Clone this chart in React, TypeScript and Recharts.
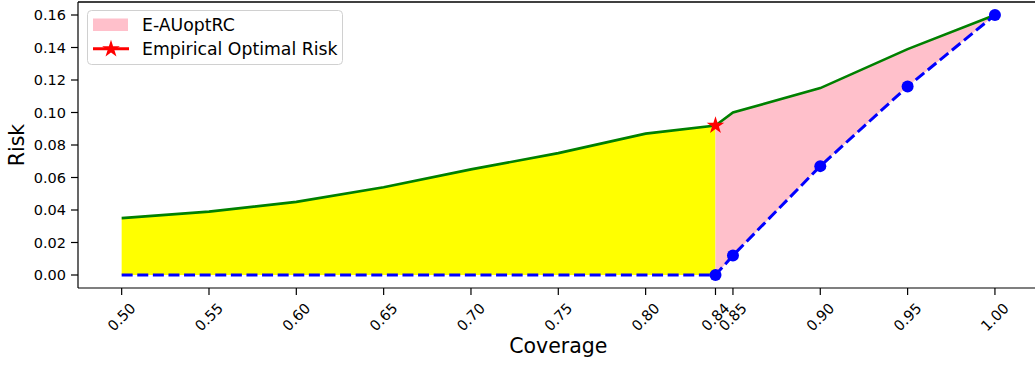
import React from "react";
import {
  ComposedChart,
  Area,
  Line,
  Scatter,
  XAxis,
  YAxis,
  ReferenceLine,
  Legend,
  Label,
} from "recharts";

const coverage = [0.5, 0.55, 0.6, 0.65, 0.7, 0.75, 0.8, 0.84, 0.85, 0.9, 0.95, 1.0];
const risk = [0.035, 0.039, 0.045, 0.054, 0.065, 0.075, 0.087, 0.092, 0.1, 0.115, 0.139, 0.16];
const optimalRisk = [0, 0, 0, 0, 0, 0, 0, 0, 0.012, 0.067, 0.116, 0.16];
const markedCoverage = [0.84, 0.85, 0.9, 0.95, 1.0];
const optimalCoverage = 0.84;
const optimalPointRisk = 0.092;

const xTicks = [0.5, 0.55, 0.6, 0.65, 0.7, 0.75, 0.8, 0.84, 0.85, 0.9, 0.95, 1.0];
const yTicks = [0, 0.02, 0.04, 0.06, 0.08, 0.1, 0.12, 0.14, 0.16];

const FONT = "DejaVu Sans";

const chartData = coverage.map((c, i) => ({
  x: c,
  risk: risk[i],
  optimal: optimalRisk[i],
  yellow: c <= optimalCoverage ? [optimalRisk[i], risk[i]] : null,
  pink: c >= optimalCoverage ? [optimalRisk[i], risk[i]] : null,
  marker: markedCoverage.includes(c),
}));

const starData = [{ x: optimalCoverage, risk: optimalPointRisk }];

function starPath(cx: number, cy: number, R: number) {
  const r = R * 0.381966;
  const pts: string[] = [];
  for (let k = 0; k < 10; k++) {
    const rad = k % 2 === 0 ? R : r;
    const a = (Math.PI / 5) * k - Math.PI / 2;
    pts.push(`${(cx + rad * Math.cos(a)).toFixed(2)},${(cy + rad * Math.sin(a)).toFixed(2)}`);
  }
  return `M${pts.join("L")}Z`;
}

function XTick(props: any) {
  const { x, y, payload } = props;
  const cy = y + 20;
  return (
    <text
      x={x}
      y={cy}
      transform={`rotate(-45 ${x} ${cy})`}
      textAnchor="middle"
      dominantBaseline="central"
      fontSize={14.5}
      fontFamily={FONT}
      fill="#000"
    >
      {Number(payload.value).toFixed(2)}
    </text>
  );
}

function BlueDot(props: any) {
  const { cx, cy, payload, index } = props;
  if (!payload.marker) return <g key={`d-${index}`} />;
  return <circle key={`d-${index}`} cx={cx} cy={cy} r={6} fill="#0000ff" />;
}

function StarShape(props: any) {
  return <path d={starPath(props.cx, props.cy, 9.3)} fill="#ff0000" />;
}

function LegendBox() {
  return (
    <svg width={257} height={56} style={{ display: "block" }}>
      <rect x={0.5} y={0.5} width={255} height={54} rx={4} fill="rgba(255,255,255,0.8)" stroke="#d0d0d0" />
      <rect x={6} y={8.5} width={35} height={12.5} fill="#ffc0cb" />
      <text x={55} y={21} fontSize={17.3} fontFamily={FONT} fill="#000">
        E-AUoptRC
      </text>
      <line x1={6} x2={42} y1={38.7} y2={38.7} stroke="#ff0000" strokeWidth={3} />
      <path d={starPath(24, 39, 9.3)} fill="#ff0000" />
      <text x={55} y={45} fontSize={17.3} fontFamily={FONT} fill="#000">
        Empirical Optimal Risk
      </text>
    </svg>
  );
}

export default function App() {
  return (
    <div
      style={{
        position: "absolute",
        left: 0,
        top: 0,
        width: 1035,
        height: 367,
        overflow: "hidden",
        background: "#fff",
      }}
    >
      <ComposedChart
        width={1045}
        height={367}
        data={chartData}
        margin={{ top: 2, right: 6.4, left: 0, bottom: 0 }}
      >
        <XAxis
          dataKey="x"
          type="number"
          domain={[0.475, 1.025]}
          ticks={xTicks}
          interval={0}
          allowDataOverflow
          height={79}
          tickSize={7}
          tick={<XTick />}
          axisLine={{ stroke: "#000", strokeWidth: 1.2 }}
          tickLine={{ stroke: "#000", strokeWidth: 1.2 }}
        >
          <Label
            value="Coverage"
            position="insideBottom"
            offset={14}
            style={{ fontSize: 20.5, fontFamily: FONT, fill: "#000" }}
          />
        </XAxis>
        <YAxis
          type="number"
          domain={[-0.008, 0.168]}
          ticks={yTicks}
          interval={0}
          allowDataOverflow
          width={78}
          tickSize={7}
          tickMargin={5}
          tickFormatter={(v: number) => v.toFixed(2)}
          tick={{ fontSize: 14.5, fontFamily: FONT, fill: "#000" }}
          axisLine={{ stroke: "#000", strokeWidth: 1.2 }}
          tickLine={{ stroke: "#000", strokeWidth: 1.2 }}
        >
          <Label
            content={(p: any) => {
              const vb = p.viewBox || { x: 0, y: 2, height: 286 };
              const cx = vb.x + 17;
              const cy = vb.y + vb.height / 2;
              return (
                <text
                  x={cx}
                  y={cy}
                  transform={`rotate(-90 ${cx} ${cy})`}
                  textAnchor="middle"
                  dominantBaseline="central"
                  fontSize={20.5}
                  fontFamily={FONT}
                  fill="#000"
                >
                  Risk
                </text>
              );
            }}
          />
        </YAxis>
        <ReferenceLine y={0.168} stroke="#000" strokeWidth={1.5} ifOverflow="extendDomain" />
        <Area
          type="linear"
          dataKey="yellow"
          stroke="none"
          fill="#ffff00"
          fillOpacity={1}
          isAnimationActive={false}
          activeDot={false}
          legendType="none"
        />
        <Area
          type="linear"
          dataKey="pink"
          stroke="none"
          fill="#ffc0cb"
          fillOpacity={1}
          isAnimationActive={false}
          activeDot={false}
          legendType="none"
        />
        <Line
          type="linear"
          dataKey="risk"
          stroke="#008000"
          strokeWidth={2.6}
          dot={false}
          activeDot={false}
          isAnimationActive={false}
        />
        <Line
          type="linear"
          dataKey="optimal"
          stroke="#0000ff"
          strokeWidth={3}
          strokeDasharray="11 4.6"
          dot={BlueDot}
          activeDot={false}
          isAnimationActive={false}
        />
        <Scatter
          data={starData}
          dataKey="risk"
          shape={StarShape}
          isAnimationActive={false}
        />
        <Legend
          layout="vertical"
          align="center"
          verticalAlign="middle"
          wrapperStyle={{ top: 10, left: 87, width: 257 }}
          content={() => <LegendBox />}
        />
      </ComposedChart>
    </div>
  );
}
